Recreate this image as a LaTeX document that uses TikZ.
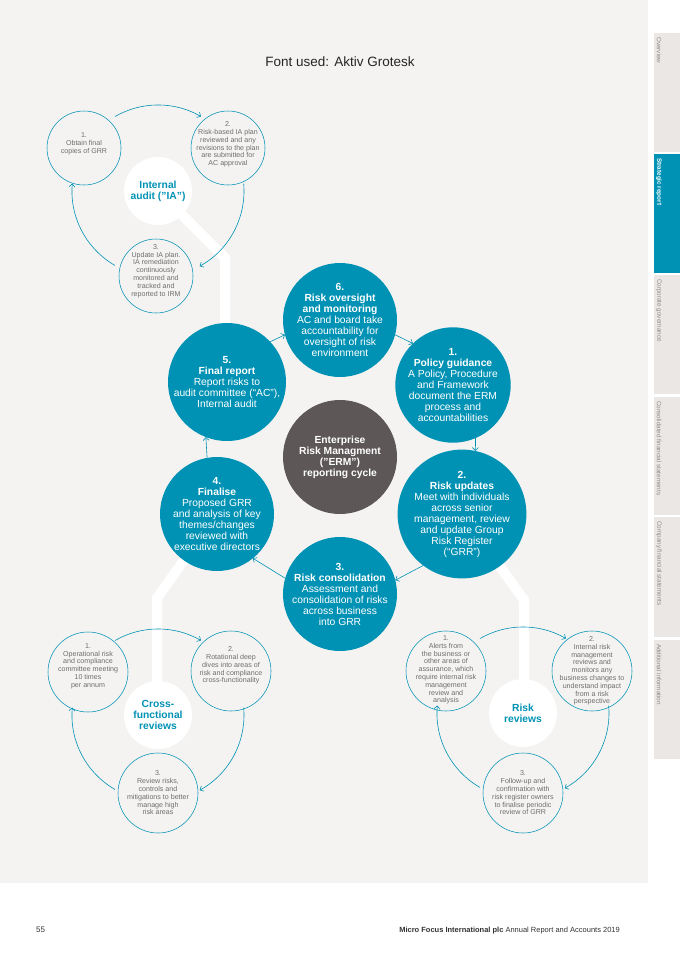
\documentclass[tikz,border=0pt]{standalone}
\usepackage{fontspec}
\setmainfont{Liberation Sans}
\usetikzlibrary{arrows.meta,calc}
\definecolor{erm}{HTML}{0092B4}
\definecolor{bgpanel}{HTML}{F4F3F1}
\definecolor{tabgray}{HTML}{EAE7E4}
\definecolor{darkc}{HTML}{5D5758}
\definecolor{smalltxt}{HTML}{6E6E6E}
\definecolor{tabtxt}{HTML}{8E8E8E}
\definecolor{foot}{HTML}{333333}
\newcommand{\sq}{\char34\relax}
\begin{document}
\begin{tikzpicture}[x=1pt,y=-1pt,
  maincirc/.style={circle, fill=erm, minimum size=114pt, inner sep=0pt, outer sep=0pt, text=white, align=center, font=\fontsize{10.3}{11}\selectfont},
  centrecirc/.style={maincirc, fill=darkc, font=\bfseries\fontsize{10.3}{11}\selectfont},
  hub/.style={circle, fill=white, minimum size=68pt, inner sep=0pt, outer sep=0pt, text=erm, align=center, font=\bfseries\fontsize{10.3}{11.2}\selectfont},
  smallc/.style={circle, draw=erm, line width=0.55pt, fill=bgpanel, minimum size=80pt, inner sep=0pt},
  smallia/.style={smallc, minimum size=74pt},
  stxt/.style={align=center, text=smalltxt, font=\fontsize{7.1}{7.8}\selectfont, inner sep=0pt},
  band/.style={draw=white, line width=10pt, line join=miter},
  arr/.style={draw=erm, line width=0.6pt, -{Straight Barb[length=3pt,width=6pt]}},
  tabbox/.style={fill=tabgray},
  tabtext/.style={rotate=-90, anchor=west, text=tabtxt, font=\fontsize{6.3}{7}\selectfont, inner sep=0pt}
]
\useasboundingbox (0,0) rectangle (680,962);
\fill[white] (0,0) rectangle (680,962);
\fill[bgpanel] (0,0) rectangle (648,883);
% sidebar tabs
\fill[tabbox] (654,33) rectangle (680,152);
\fill[erm] (654,154) rectangle (680,273);
\fill[tabbox] (654,275) rectangle (680,394);
\fill[tabbox] (654,397) rectangle (680,515);
\fill[tabbox] (654,517) rectangle (680,637);
\fill[tabbox] (654,640) rectangle (680,759);
\node[tabtext] (t1) at (659,37) {Overview};
\node[tabtext, text=white, font=\bfseries\fontsize{6.3}{7}\selectfont] (t2) at (659,158) {Strategic report};
\node[tabtext] (t3) at (659,279) {Corporate governance};
\node[tabtext] (t4) at (659,401) {Consolidated financial statements};
\node[tabtext] (t5) at (659,521) {Company financial statements};
\node[tabtext] (t6) at (659,644) {Additional information};
% title
\node[font=\fontsize{13.5}{16}\selectfont, text=black!85] (title) at (340,62) {Font used: Aktiv Grotesk};
% positions
\coordinate (iap) at (158,191);
\coordinate (cfp) at (158,715);
\coordinate (rrp) at (523,713);
\coordinate (c2p) at (462,514);
\coordinate (c4p) at (217,514);
\coordinate (c5p) at (227,382);
\coordinate (iabend) at (225,258);
\coordinate (cfbend) at (157,598);
\coordinate (rrbend) at (524,600);
% white bands
\draw[band] (iap) -- (iabend) -- (iabend |- c5p);
\draw[band] (c4p) -- (cfbend) -- (cfbend |- cfp);
\draw[band] (c2p) -- (rrbend) -- (rrbend |- rrp);
% hubs
\node[hub] (iahub) at (iap) {Internal\\audit (\sq IA\sq)};
\node[hub] (cfhub) at (cfp) {Cross-\\functional\\reviews};
\node[hub] (rrhub) at (rrp) {Risk\\reviews};
% small circles: internal audit
\node[smallia] (ia1) at (84,148) {};
\node[smallia] (ia2) at (228,148) {};
\node[smallia] (ia3) at (156,276) {};
\node[stxt] (ia1t) at (84,144) {1.\\Obtain final\\copies of GRR};
\node[stxt] (ia2t) at (228,144.5) {2.\\Risk-based IA plan\\reviewed and any\\revisions to the plan\\are submitted for\\AC approval};
\node[stxt] (ia3t) at (156,271) {3.\\Update IA plan.\\IA remediation\\continuously\\monitored and\\tracked and\\reported to IRM};
% small circles: cross-functional
\node[smallc] (cf1) at (88,672) {};
\node[smallc] (cf2) at (231,671) {};
\node[smallc] (cf3) at (158,793) {};
\node[stxt] (cf1t) at (88,666) {1.\\Operational risk\\and compliance\\committee meeting\\10 times\\per annum};
\node[stxt] (cf2t) at (231,665.5) {2.\\Rotational deep\\dives into areas of\\risk and compliance\\cross-functionality};
\node[stxt] (cf3t) at (158,793) {3.\\Review risks,\\controls and\\mitigations to better\\manage high\\risk areas};
% small circles: risk reviews
\node[smallc] (rr1) at (446,671) {};
\node[smallc] (rr2) at (592,671) {};
\node[smallc] (rr3) at (523,793) {};
\node[stxt] (rr1t) at (446,670) {1.\\Alerts from\\the business or\\other areas of\\assurance, which\\require internal risk\\management\\review and\\analysis};
\node[stxt] (rr2t) at (592,671) {2.\\Internal risk\\management\\reviews and\\monitors any\\business changes to\\understand impact\\from a risk\\perspective};
\node[stxt] (rr3t) at (523,793) {3.\\Follow-up and\\confirmation with\\risk register owners\\to finalise periodic\\review of GRR};
% cluster arcs
\foreach \h in {iahub,cfhub,rrhub}{
  \draw[arr] ($(\h)+(-120:86)$) arc[start angle=-120, end angle=-60, radius=86];
  \draw[arr] ($(\h)+(-5:86)$) arc[start angle=-5, end angle=61, radius=86];
  \draw[arr] ($(\h)+(-240:86)$) arc[start angle=-240, end angle=-175, radius=86];
}
% main cycle
\node[maincirc] (c6) at (340,320) {\textbf{6.}\\\textbf{Risk oversight}\\\textbf{and monitoring}\\AC and board take\\accountability for\\oversight of risk\\environment};
\node[maincirc] (c1) at (453,385) {\textbf{1.}\\\textbf{Policy guidance}\\A Policy, Procedure\\and Framework\\document the ERM\\process and\\accountabilities};
\node[maincirc] (c2) at (c2p) {\textbf{2.}\\\textbf{Risk updates}\\Meet with individuals\\across senior\\management, review\\and update Group\\Risk Register\\(“GRR”)};
\node[maincirc] (c3) at (340,594) {\textbf{3.}\\\textbf{Risk consolidation}\\Assessment and\\consolidation of risks\\across business\\into GRR};
\node[maincirc] (c4) at (c4p) {\textbf{4.}\\\textbf{Finalise}\\Proposed GRR\\and analysis of key\\themes/changes\\reviewed with\\executive directors};
\node[maincirc] (c5) at (c5p) {\textbf{5.}\\\textbf{Final report}\\Report risks to\\audit committee (“AC”),\\Internal audit};
\node[centrecirc] (erm) at (340,457) {Enterprise\\Risk Managment\\(\sq ERM\sq)\\reporting cycle};
\draw[arr] (c6.-15) -- (c1.134);
\draw[arr] (c1.-67) -- (c2.78);
\draw[arr] (c2.-127) -- (c3.14);
\draw[arr] (c3.164) -- (c4.-51);
\draw[arr] (c4.100) -- (c5.-111);
\draw[arr] (c5.43) -- (c6.-165);
% footer
\node[anchor=base west, text=foot, font=\fontsize{8}{9}\selectfont, inner sep=0pt] (pg) at (36,932) {55};
\node[anchor=base east, text=foot, font=\fontsize{7.5}{9}\selectfont, inner sep=0pt] (ft) at (620,932) {\textbf{Micro Focus International plc} Annual Report and Accounts 2019};
\end{tikzpicture}
\end{document}
